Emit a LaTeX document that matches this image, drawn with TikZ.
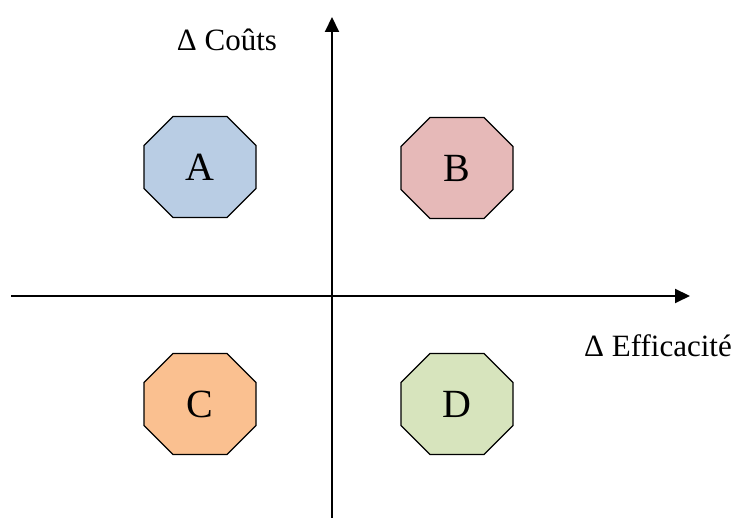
\documentclass[tikz,border=0pt]{standalone}
\usepackage{fontspec}
\setmainfont{Liberation Serif}
\usetikzlibrary{arrows.meta}
\definecolor{octA}{RGB}{185,205,228}
\definecolor{octB}{RGB}{230,185,184}
\definecolor{octC}{RGB}{250,192,144}
\definecolor{octD}{RGB}{215,228,189}
\tikzset{
  axis/.style={line width=2pt,-{Triangle[length=15pt,width=14pt]}},
  octo/.style={draw=black,line width=1.3pt},
  lab/.style={font=\fontsize{40}{40}\selectfont,inner sep=0pt},
  axlab/.style={font=\fontsize{31}{31}\selectfont,inner sep=0pt}
}
\newcommand\octagonshape[4]{%
  \begin{scope}[shift={(#2,#3)}]
    \filldraw[octo,fill=#4] (-27,50.5) -- (27,50.5) -- (56,21.5) -- (56,-21.5)
      -- (27,-50.5) -- (-27,-50.5) -- (-56,-21.5) -- (-56,21.5) -- cycle;
  \end{scope}
  \node[lab] (#1) at (#2,#3) {#1};}
\begin{document}
\begin{tikzpicture}[x=1pt,y=1pt]
\useasboundingbox (0,0) rectangle (736,518);
\coordinate (xs) at (11,222);
\coordinate (xe) at (690,222);
\coordinate (ys) at (332,0);
\coordinate (ye) at (332,501);
\draw[axis] (xs) -- (xe);
\draw[axis] (ys) -- (ye);
\octagonshape{A}{200}{351}{octA}
\octagonshape{B}{457}{350}{octB}
\octagonshape{C}{200}{114}{octC}
\octagonshape{D}{457}{114}{octD}
\node[axlab] (ylab) at (227,478) {Δ Coûts};
\node[axlab] (xlab) at (658,172) {Δ Efficacité};
\end{tikzpicture}
\end{document}
